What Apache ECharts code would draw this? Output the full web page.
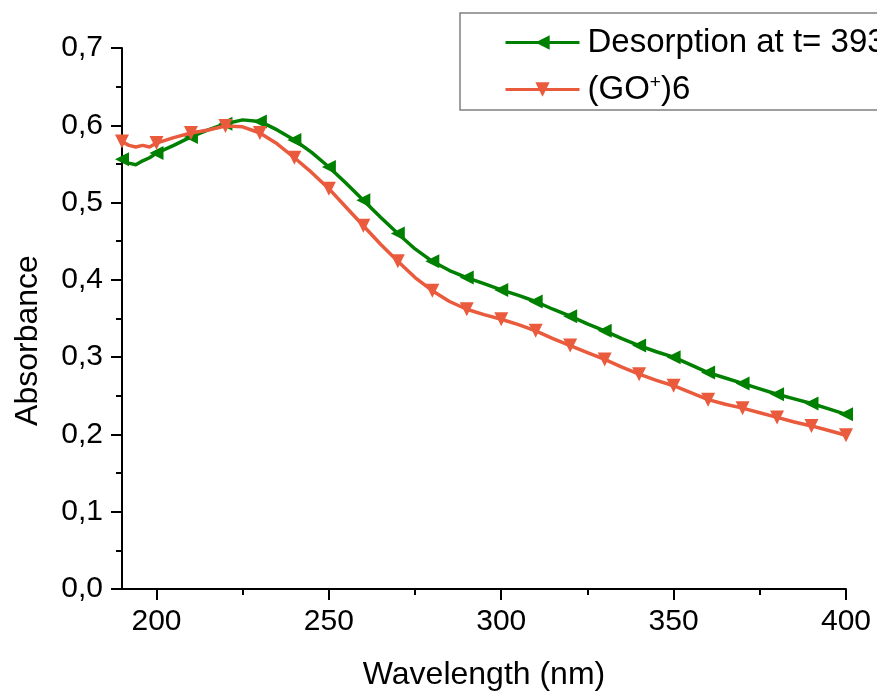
<!DOCTYPE html>
<html>
<head>
<meta charset="utf-8">
<script src="https://cdn.jsdelivr.net/npm/echarts@6/dist/echarts.min.js"></script>
<style>
  html, body { margin: 0; padding: 0; background: #fff; }
  #chart { width: 877px; height: 696px; }
</style>
</head>
<body>
<div id="chart"></div>
<script>
// Absorbance spectra, wavelength in nm
const wavelengths = [190, 192, 194, 196, 198, 200, 205, 210, 215, 220, 225, 230, 235, 240, 245, 250,
  255, 260, 265, 270, 275, 280, 285, 290, 295, 300, 305, 310, 315, 320, 325, 330, 335, 340, 345,
  350, 355, 360, 365, 370, 375, 380, 385, 390, 395, 400];

const desorption = [0.556, 0.551, 0.549, 0.554, 0.558, 0.564, 0.574, 0.585, 0.594, 0.602, 0.607, 0.605,
  0.594, 0.581, 0.565, 0.546, 0.525, 0.503, 0.481, 0.460, 0.440, 0.424, 0.412, 0.403, 0.395, 0.387,
  0.380, 0.372, 0.362, 0.353, 0.343, 0.334, 0.324, 0.315, 0.307, 0.300, 0.290, 0.280, 0.273, 0.266,
  0.259, 0.252, 0.246, 0.240, 0.233, 0.226];

const go6 = [0.579, 0.574, 0.572, 0.574, 0.572, 0.577, 0.584, 0.590, 0.594, 0.599, 0.598, 0.590,
  0.576, 0.558, 0.539, 0.518, 0.494, 0.470, 0.446, 0.424, 0.403, 0.386, 0.372, 0.362, 0.355, 0.349,
  0.342, 0.334, 0.324, 0.315, 0.306, 0.297, 0.287, 0.278, 0.270, 0.263, 0.254, 0.245, 0.239, 0.234,
  0.228, 0.222, 0.216, 0.211, 0.205, 0.199];

const xMajorTicks = [200, 250, 300, 350, 400];
const xMinorTicks = [225, 275, 325, 375];

const seriesNames = ['Desorption at t= 393', '(GO+)6'];

const FONT = 'Liberation Sans, Arial, sans-serif';
const GREEN = '#008000';
const RED = '#EA5A3C';

function pairs(ys) {
  return wavelengths.map((w, i) => [w, ys[i]]);
}
// markers every 10 nm
function markerSize(v) {
  return v[0] % 10 === 0 ? 14 : 0;
}

const chart = echarts.init(document.getElementById('chart'), null, { renderer: 'canvas' });

chart.setOption({
  animation: false,
  backgroundColor: '#ffffff',
  grid: { left: 122, right: 31, top: 48, bottom: 106, containLabel: false },
  legend: {
    orient: 'vertical',
    left: 460,
    top: 13,
    padding: [13, 40, 4, 44],
    itemWidth: 74,
    itemHeight: 18,
    itemGap: 14,
    borderColor: '#808080',
    borderWidth: 1.5,
    lineStyle: { width: 3 },
    data: seriesNames,
    formatter: function (name) {
      return name === '(GO+)6' ? '(GO{sup|+})6' : name;
    },
    textStyle: {
      fontFamily: FONT,
      fontSize: 33,
      lineHeight: 33,
      color: '#000',
      padding: [0, 0, 0, 3],
      rich: {
        sup: { fontFamily: FONT, fontSize: 19, lineHeight: 10, verticalAlign: 'top', color: '#000' }
      }
    }
  },
  xAxis: [
    {
      type: 'value',
      min: 190,
      max: 400,
      name: 'Wavelength (nm)',
      nameLocation: 'middle',
      nameGap: 70,
      nameTextStyle: { fontFamily: FONT, fontSize: 32, color: '#000' },
      axisLine: { show: true, onZero: false, lineStyle: { color: '#000', width: 2 } },
      axisTick: { show: true, length: 11, customValues: xMajorTicks, lineStyle: { color: '#000', width: 2 } },
      axisLabel: { customValues: xMajorTicks, fontFamily: FONT, fontSize: 30, color: '#000', margin: 18 },
      splitLine: { show: false }
    },
    {
      type: 'value',
      min: 190,
      max: 400,
      position: 'bottom',
      axisLine: { show: false },
      axisTick: { show: true, length: 6, customValues: xMinorTicks, lineStyle: { color: '#000', width: 2 } },
      axisLabel: { show: false },
      splitLine: { show: false }
    }
  ],
  yAxis: {
    type: 'value',
    min: 0,
    max: 0.7,
    interval: 0.1,
    name: 'Absorbance',
    nameLocation: 'middle',
    nameGap: 78,
    nameTextStyle: { fontFamily: FONT, fontSize: 32, color: '#000', padding: [0, 44, 0, 0] },
    axisLine: { show: true, lineStyle: { color: '#000', width: 2 } },
    axisTick: { show: true, length: 11, lineStyle: { color: '#000', width: 2 } },
    minorTick: { show: true, splitNumber: 2, length: 6, lineStyle: { color: '#000', width: 2 } },
    axisLabel: {
      fontFamily: FONT, fontSize: 30, color: '#000', margin: 19,
      formatter: v => v.toFixed(1).replace('.', ',')
    },
    splitLine: { show: false },
    minorSplitLine: { show: false }
  },
  series: [
    {
      name: seriesNames[0],
      type: 'line',
      xAxisIndex: 0,
      data: pairs(desorption),
      showSymbol: true,
      showAllSymbol: true,
      symbol: 'triangle',
      symbolRotate: 90,
      symbolSize: markerSize,
      color: GREEN,
      itemStyle: { color: GREEN },
      lineStyle: { color: GREEN, width: 3.5 },
      z: 2
    },
    {
      name: seriesNames[1],
      type: 'line',
      xAxisIndex: 0,
      data: pairs(go6),
      showSymbol: true,
      showAllSymbol: true,
      symbol: 'triangle',
      symbolRotate: 180,
      symbolSize: markerSize,
      color: RED,
      itemStyle: { color: RED },
      lineStyle: { color: RED, width: 3.5 },
      z: 3
    }
  ]
});
</script>
</body>
</html>
